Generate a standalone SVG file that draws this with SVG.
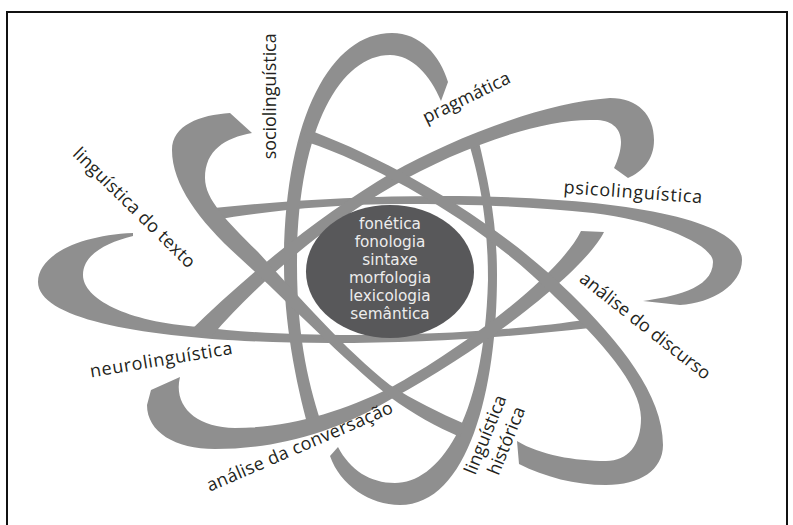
<svg xmlns="http://www.w3.org/2000/svg" width="793" height="525" viewBox="0 0 793 525">
<style>
.band{fill:#8f8f8f;stroke:none}
.lbl{font-family:"Open Sans","Noto Sans","Liberation Sans",sans-serif;font-size:18px;fill:#231f20}
.core{font-family:"DejaVu Sans","Liberation Sans",sans-serif;font-size:15.3px;fill:#ededed;text-anchor:middle}
</style>
<rect x="0" y="0" width="793" height="525" fill="#ffffff"/>
<rect x="7" y="12" width="780" height="540" fill="none" stroke="#111111" stroke-width="2"/>
<g id="orbits">
  <g id="orbit-horizontal">
    <path class="band" d="M 214,208 C 280,201 360,196 440,196 C 600,196 742,215 742,260 C 742,285 712,303 680,305 L 643,301 C 670,297 713,290 713,262 C 713,245 660,221 593,213 C 530,206 460,204 400,204 C 330,204 260,212 214,220 Z"/>
    <path class="band" d="M 590,328 C 500,338 420,343 330,343 C 180,343 38,325 38,282 C 38,255 80,235 133,233 L 133,236 C 105,243 83,255 83,275 C 83,298 125,322 200,327 C 300,340 480,337 590,319 Z"/>
  </g>
  <g id="orbit-vertical">
    <path class="band" d="M 309,430 C 295,380 284,320 284,265 C 284,120 330,33 392,33 C 420,33 440,55 448,82 L 441,101 C 430,75 412,55 390,55 C 340,55 297,130 297,265 C 297,340 310,390 323,428 Z"/>
    <path class="band" d="M 478,138 C 488,180 497,220 497,275 C 497,390 468,505 400,505 C 370,505 340,485 330,456 L 338,447 C 350,470 370,483 395,483 C 437,483 484,425 488,280 C 488,220 480,180 468,140 Z"/>
  </g>
  <g id="orbit-rising">
    <path class="band" d="M 188,333 C 250,272 320,215 393,172 C 450,140 540,103 610,98 C 638,98 654,115 654,140 C 654,160 642,172 628,178 L 614,168 C 618,160 621,150 621,142 C 621,127 610,120 595,120 C 540,118 455,150 393,186 C 330,222 260,280 212,336 Z"/>
    <path class="band" d="M 581,231 L 604,232 C 585,270 490,345 393,398 C 330,436 270,449 215,449 C 175,449 147,432 147,405 L 151,390 L 180,377 C 173,405 195,428 235,428 C 290,428 340,412 390,388 C 460,350 560,275 581,231 Z"/>
  </g>
  <g id="orbit-falling">
    <path class="band" d="M 230,113 C 200,115 172,125 172,150 C 172,185 200,222 240,258 C 280,294 335,352 390,397 C 413,414 437,427 460,437 L 465,424 C 440,413 413,400 390,385 C 345,350 295,292 258,252 C 228,222 205,200 205,178 C 205,150 225,138 252,133 Z"/>
    <path class="band" d="M 303,128 C 380,155 490,215 570,293 C 620,342 663,395 663,445 C 663,470 640,485 606,485 C 575,485 545,477 519,464 L 517,441 C 540,455 575,461 606,461 C 628,461 641,445 641,418 C 641,385 600,340 555,297 C 490,230 385,168 307,142 Z"/>
  </g>
</g>
<g id="nucleus">
  <ellipse cx="390" cy="271.5" rx="84" ry="66.5" fill="#58585a"/>
  <text class="core" x="390" y="229.3">fonética</text>
  <text class="core" x="390" y="247.3">fonologia</text>
  <text class="core" x="390" y="265.3">sintaxe</text>
  <text class="core" x="390" y="283.3">morfologia</text>
  <text class="core" x="390" y="301.3">lexicologia</text>
  <text class="core" x="390" y="319.3">semântica</text>
</g>
<g id="labels" text-anchor="middle">
  <text class="lbl" transform="translate(275.5,96.3) rotate(-90)" textLength="126">sociolinguística</text>
  <text class="lbl" transform="translate(469,103) rotate(-26)" textLength="95">pragmática</text>
  <text class="lbl" transform="translate(632.5,198.2) rotate(4.2)" textLength="139">psicolinguística</text>
  <text class="lbl" transform="translate(130,212) rotate(44.4)" textLength="163">linguística do texto</text>
  <text class="lbl" transform="translate(641.5,330.6) rotate(38.2)" textLength="161">análise do discurso</text>
  <text class="lbl" transform="translate(162,365.7) rotate(-9.4)" textLength="144">neurolinguística</text>
  <text class="lbl" transform="translate(302,452) rotate(-23.3)" textLength="201">análise da conversação</text>
  <text class="lbl" transform="translate(491,437) rotate(-68)">linguística</text>
  <text class="lbl" transform="translate(512,443) rotate(-68)">histórica</text>
</g>
</svg>
